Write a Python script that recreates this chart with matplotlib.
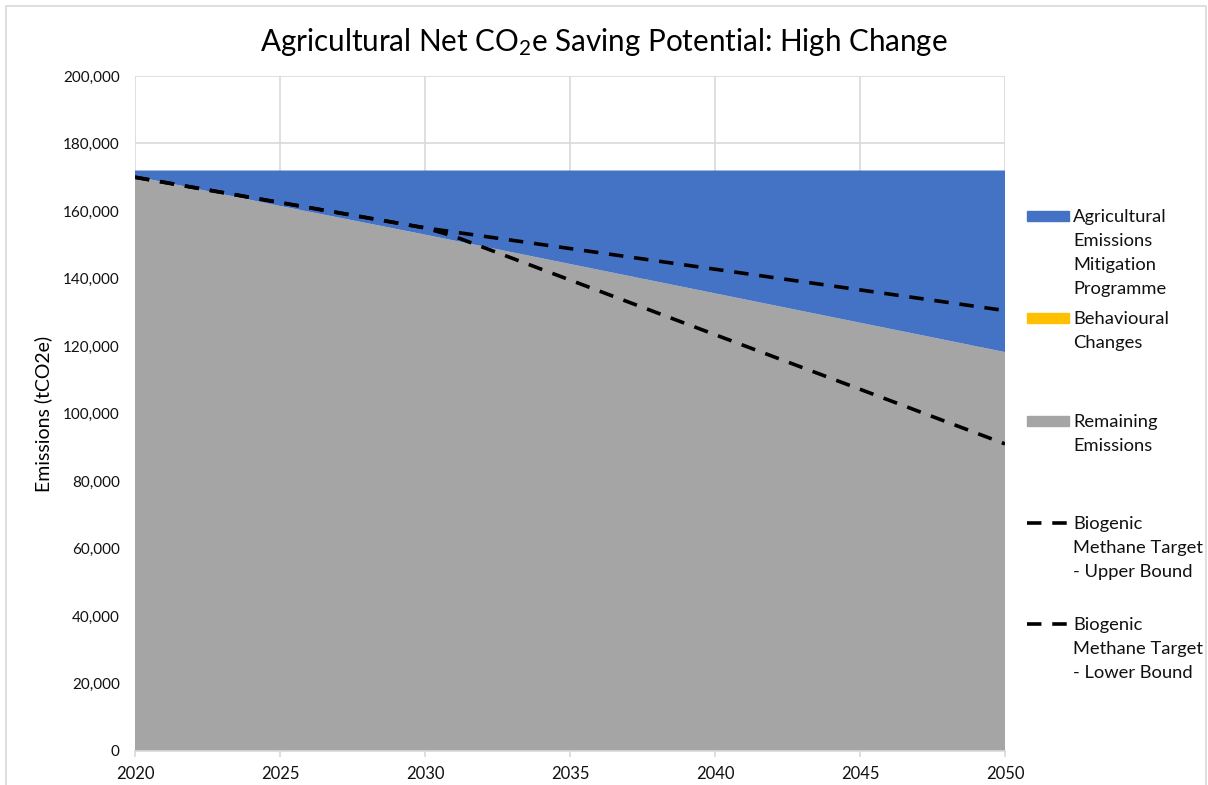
import numpy as np
import matplotlib
matplotlib.use("Agg")
import matplotlib.pyplot as plt
from matplotlib.patches import Rectangle
from matplotlib.lines import Line2D
from matplotlib.ticker import FuncFormatter

plt.rcParams['font.family'] = ['Lato', 'DejaVu Sans']
plt.rcParams['mathtext.fontset'] = 'custom'
plt.rcParams['mathtext.rm'] = 'Lato'
plt.rcParams['mathtext.it'] = 'Lato:italic'

# emissions, tCO2e
years = [2020, 2025, 2030, 2035, 2040, 2045, 2050]
remaining = [170300, 161500, 153000, 144300, 135600, 126900, 118200]
behavioural = [0, 0, 0, 0, 0, 0, 0]
baseline = [172000, 172000, 172000, 172000, 172000, 172000, 172000]
mitigation = [b - r - c for b, r, c in zip(baseline, remaining, behavioural)]

upper_years = [2020, 2030, 2050]
upper_bound = [170000, 155000, 130500]
lower_years = [2020, 2030, 2031, 2050]
lower_bound = [170000, 155000, 152500, 91000]

labels = ["Agricultural\nEmissions\nMitigation\nProgramme",
          "Behavioural\nChanges",
          "Remaining\nEmissions",
          "Biogenic\nMethane Target\n- Upper Bound",
          "Biogenic\nMethane Target\n- Lower Bound"]

c_blue = '#4472c4'
c_yellow = '#ffc000'
c_grey = '#a5a5a5'
c_grid = '#d9d9d9'

W, H = 1208, 785
fig = plt.figure(figsize=(W / 100, H / 100), dpi=100)
ax = fig.add_axes([135 / W, 1 - 751 / H, 870 / W, 675 / H])

ax.stackplot(years, remaining, behavioural, mitigation,
             colors=[c_grey, c_yellow, c_blue], linewidth=0, zorder=2)
ax.plot(upper_years, upper_bound, color='black', lw=2.6,
        dashes=(4, 3), zorder=3)
ax.plot(lower_years, lower_bound, color='black', lw=2.6,
        dashes=(4, 3), zorder=3)

ax.set_xlim(2020, 2050)
ax.set_ylim(0, 200000)
ax.set_xticks(range(2020, 2051, 5))
ax.set_yticks(range(0, 200001, 20000))
ax.yaxis.set_major_formatter(FuncFormatter(lambda v, p: f"{int(v):,}"))
ax.grid(True, color=c_grid, lw=1.2, zorder=0)
ax.set_axisbelow(True)

for s in ['top', 'right', 'left']:
    ax.spines[s].set_visible(False)
ax.spines['bottom'].set_color(c_grid)
ax.spines['bottom'].set_linewidth(1.2)
ax.tick_params(axis='y', length=0, pad=11, labelsize=11, labelcolor='#111111')
ax.tick_params(axis='x', length=4, width=1.2, color=c_grid, pad=7,
               labelsize=12, labelcolor='#111111')

ax.set_ylabel("Emissions (tCO2e)", fontsize=14, labelpad=8)
fig.text(0.5, 1 - 42 / H, r"Agricultural Net CO$_2$e Saving Potential: High Change",
         ha='center', va='center', fontsize=21.3)

# legend drawn by hand: fixed slots down the right side
def fy(py):
    return 1 - py / H

slot_y = [216, 318, 421, 523, 624]
for i, (lab, y) in enumerate(zip(labels, slot_y)):
    if i < 3:
        col = [c_blue, c_yellow, c_grey][i]
        fig.add_artist(Rectangle((1027 / W, fy(y + 5)), 42 / W, 10 / H,
                                 transform=fig.transFigure, color=col))
    else:
        fig.add_artist(Line2D([1027 / W, 1067 / W], [fy(y), fy(y)],
                              transform=fig.transFigure, color='black',
                              lw=2.6, dashes=(4, 3)))
    fig.text(1073 / W, fy(y - 7), lab, ha='left', va='top', fontsize=13.2,
             linespacing=1.62, color='#111111')

# outer chart frame
fig.add_artist(Rectangle((6 / W, -0.02), 1200 / W, fy(6) + 0.02,
                         transform=fig.transFigure, fill=False,
                         edgecolor=c_grid, lw=1.2))

fig.savefig("out.png", dpi=100)
